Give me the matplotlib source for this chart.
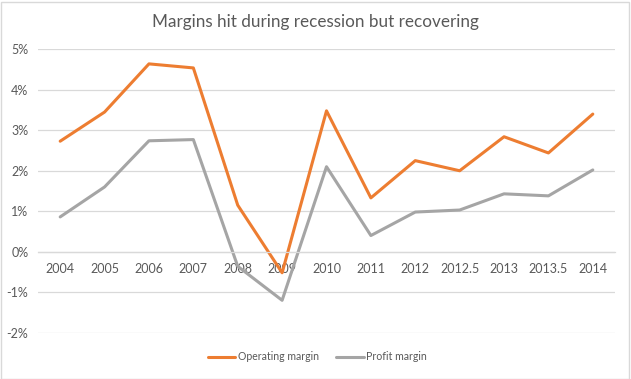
import matplotlib
matplotlib.use("Agg")
import matplotlib.pyplot as plt
from matplotlib.ticker import FuncFormatter
from matplotlib.patches import Rectangle

categories = ["2004", "2005", "2006", "2007", "2008", "2009", "2010", "2011",
              "2012", "2012.5", "2013", "2013.5", "2014"]
operating_margin = [2.73, 3.45, 4.64, 4.54, 1.15, -0.52, 3.48, 1.33, 2.25, 2.0, 2.84, 2.44, 3.40]
profit_margin = [0.86, 1.60, 2.74, 2.77, -0.36, -1.20, 2.10, 0.40, 0.98, 1.03, 1.43, 1.38, 2.02]
y_ticks = [-2, -1, 0, 1, 2, 3, 4, 5]

plt.rcParams['font.family'] = ['Lato', 'DejaVu Sans']
text_color = "#595959"

fig = plt.figure(figsize=(6.31, 3.79), dpi=100)
fig.patches.append(Rectangle((0.001, 0.001), 0.996, 0.995, transform=fig.transFigure,
                             fill=False, edgecolor="#D9D9D9", linewidth=1.0))
ax = fig.add_axes([38/631, 1 - 332.7/379, (615-38)/631, (332.7-49.3)/379])

x = list(range(len(categories)))
ax.plot(x, operating_margin, color="#ED7D31", linewidth=2.2, label="Operating margin",
        solid_joinstyle="round", solid_capstyle="round")
ax.plot(x, profit_margin, color="#A5A5A5", linewidth=2.2, label="Profit margin",
        solid_joinstyle="round", solid_capstyle="round")

ax.set_xlim(-0.5, len(categories) - 0.5)
ax.set_ylim(-2, 5)
ax.set_yticks(y_ticks)
ax.yaxis.set_major_formatter(FuncFormatter(lambda v, p: f"{v:.0f}%"))
ax.grid(axis="y", color="#D9D9D9", linewidth=0.9)
ax.set_axisbelow(True)
for s in ["top", "right", "left"]:
    ax.spines[s].set_visible(False)
ax.spines["bottom"].set_position(("data", 0))
ax.spines["bottom"].set_color("#D9D9D9")
ax.spines["bottom"].set_linewidth(0.9)
ax.set_xticks(x)
ax.set_xticklabels(categories)
ax.tick_params(axis="x", length=0, pad=8, labelsize=9, labelcolor=text_color)
ax.tick_params(axis="y", length=0, pad=7, labelsize=9, labelcolor=text_color)

fig.text(0.5, 1 - 22/379, "Margins hit during recession but recovering", ha="center", va="center",
         fontsize=12.3, color=text_color)

leg = fig.legend(loc="center", bbox_to_anchor=(0.503, 1 - 357/379), ncol=2, frameon=False,
                 fontsize=7.6, handlelength=2.6, handletextpad=0.2, columnspacing=1.7)
for t in leg.get_texts():
    t.set_color(text_color)

fig.savefig("out.png", dpi=100)
